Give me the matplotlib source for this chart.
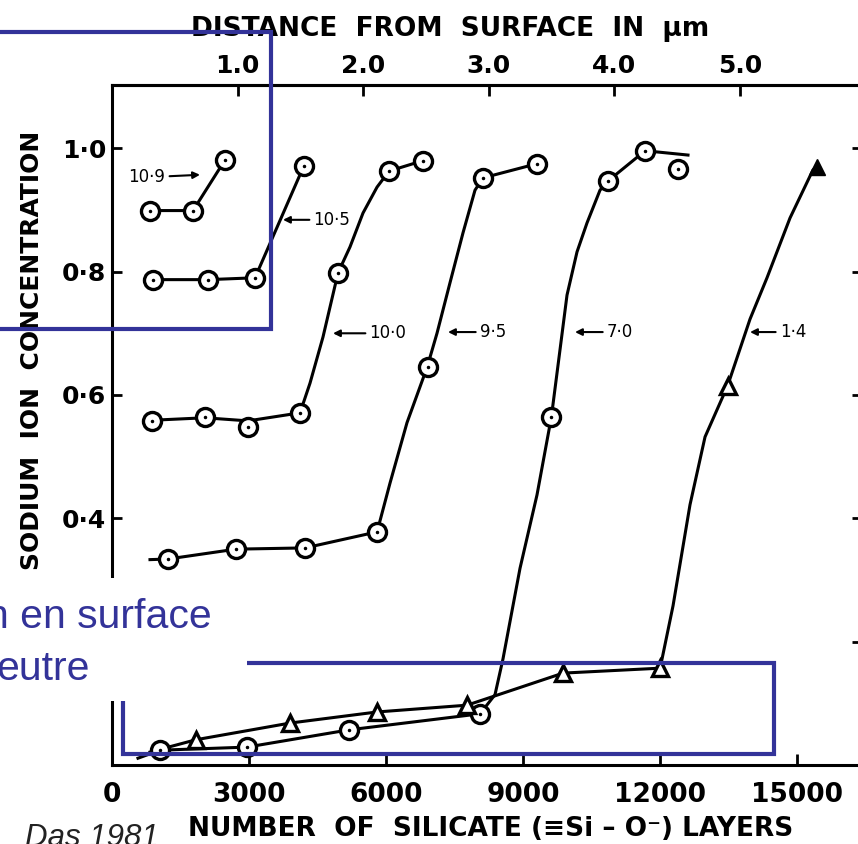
import matplotlib
matplotlib.use("Agg")
import matplotlib.pyplot as plt
from matplotlib.patches import Rectangle

# --- données (Das 1981) ---
# nombre de couches silicate (x) et concentration en ions sodium (y)
x109 = [832, 1774, 2474]
y109 = [0.899, 0.899, 0.981]

x105 = [898, 2102, 3131, 4204]
y105 = [0.787, 0.787, 0.790, 0.972]

x100 = [876, 2036, 2978, 4117, 4949, 6066, 6811]
y100 = [0.558, 0.564, 0.548, 0.571, 0.798, 0.963, 0.980]
x100_line = [876, 2036, 2978, 4117, 4335, 4620, 4949, 5211, 5496, 5803, 6066, 6811]
y100_line = [0.559, 0.563, 0.558, 0.571, 0.619, 0.694, 0.798, 0.840, 0.895, 0.937, 0.963, 0.980]

x95 = [1226, 2716, 4227, 5804, 6920, 8123, 9308]
y95 = [0.334, 0.350, 0.352, 0.378, 0.645, 0.952, 0.975]
x95_line = [832, 1226, 2716, 4227, 5804, 6087, 6459, 6900, 7116, 7401, 7686, 7948, 8123, 9308]
y95_line = [0.333, 0.334, 0.350, 0.352, 0.378, 0.457, 0.555, 0.645, 0.700, 0.782, 0.863, 0.932, 0.952, 0.975]

x70 = [1051, 2956, 5190, 8059, 9620, 10861, 11673, 12396]
y70 = [0.024, 0.029, 0.057, 0.083, 0.564, 0.947, 0.996, 0.967]
x70_line = [569, 1051, 2956, 5190, 8059, 8386, 8561, 8934, 9306, 9620, 9809, 9963, 10182, 10401, 10685,
            10861, 11673, 12612]
y70_line = [0.011, 0.024, 0.029, 0.057, 0.083, 0.114, 0.172, 0.319, 0.438, 0.564, 0.673, 0.762, 0.832, 0.879,
            0.932, 0.947, 0.996, 0.989]

x14 = [1840, 3898, 5804, 7775, 9877, 12002, 13480, 15437]
y14 = [0.041, 0.068, 0.086, 0.097, 0.149, 0.157, 0.615, 0.970]
x14_line = [832, 1840, 3898, 5804, 7775, 9877, 12002, 12284, 12656, 12985, 13480, 13970, 14342, 14846, 15349,
            15437]
y14_line = [0.021, 0.041, 0.068, 0.086, 0.097, 0.149, 0.157, 0.258, 0.422, 0.532, 0.615, 0.723, 0.790, 0.887,
            0.965, 0.970]

# étiquettes des courbes (pH) : texte, pointe de la flèche, position du texte
labels = ["10·9", "10·5", "10·0", "9·5", "7·0", "1·4"]
tips = [(1927, 0.957), (3744, 0.884), (4839, 0.700), (7357, 0.702), (10138, 0.702), (13970, 0.702)]
txt_pos = [(766, 0.953), (4817, 0.884), (6043, 0.700), (8342, 0.702), (11123, 0.702), (14911, 0.702)]

xticks = [0, 3000, 6000, 9000, 12000, 15000]
yticks = [0.2, 0.4, 0.6, 0.8, 1.0]
ytick_labels = ["", "0·4", "0·6", "0·8", "1·0"]  # 0·2 caché par l'encadré de la diapo
um_ticks = [1, 2, 3, 4, 5]
um_labels = ["1.0", "2.0", "3.0", "4.0", "5.0"]
layers_per_um = 2750

blue = "#333399"

fig = plt.figure(figsize=(8.58, 8.44), dpi=100)
ax = fig.add_axes([112 / 858, 79 / 844, 750 / 858, 680 / 844])

lw = 2.2
circ = dict(marker="o", ms=13, mfc="white", mec="black", mew=2.4, ls="none", zorder=4)
dot = dict(marker=".", ms=3, color="black", ls="none", zorder=5)
tri = dict(marker="^", ms=12, mfc="white", mec="black", mew=2.4, ls="none", zorder=4)

ax.plot(x109, y109, color="k", lw=lw)
ax.plot(x105, y105, color="k", lw=lw)
ax.plot(x100_line, y100_line, color="k", lw=lw)
ax.plot(x95_line, y95_line, color="k", lw=lw)
ax.plot(x70_line, y70_line, color="k", lw=lw)
ax.plot(x14_line, y14_line, color="k", lw=lw)

for xs, ys in [(x109, y109), (x105, y105), (x100, y100), (x95, y95), (x70, y70)]:
    ax.plot(xs, ys, **circ)
    ax.plot(xs, ys, **dot)
ax.plot(x14[:-1], y14[:-1], **tri)
ax.plot(x14[-1:], y14[-1:], marker="^", ms=12, color="black", ls="none", zorder=4)

for lab, tip, pos in zip(labels, tips, txt_pos):
    ax.annotate(lab, xy=tip, xytext=pos, ha="center", va="center", fontsize=12,
                arrowprops=dict(arrowstyle="-|>", color="k", lw=1.5, mutation_scale=10,
                                shrinkA=1, shrinkB=0))

ax.set_xlim(0, 16422)
ax.set_ylim(0, 1.1026)
ax.set_xticks(xticks)
ax.set_xticklabels([str(v) for v in xticks], fontsize=19, fontweight="bold")
ax.set_yticks(yticks)
ax.set_yticklabels(ytick_labels, fontsize=18, fontweight="bold")
ax.tick_params(axis="x", direction="in", length=8, width=2, pad=12, top=False)
ax.tick_params(axis="y", direction="in", length=7, width=2, pad=4, right=True)
for s in ax.spines.values():
    s.set_linewidth(2.2)

sec = ax.secondary_xaxis("top", functions=(lambda v: v / layers_per_um, lambda d: d * layers_per_um))
sec.set_xticks(um_ticks)
sec.set_xticklabels(um_labels, fontsize=18, fontweight="bold")
sec.tick_params(direction="in", length=8, width=2, pad=5)
sec.spines["top"].set_linewidth(2.2)

fig.text(450 / 858, 1 - 29 / 844, "DISTANCE  FROM  SURFACE  IN  µm", ha="center", va="center",
         fontsize=19, fontweight="bold")
fig.text(491 / 858, 1 - 829 / 844, "NUMBER  OF  SILICATE (≡Si – O⁻) LAYERS", ha="center", va="center",
         fontsize=19, fontweight="bold")
fig.text(32 / 858, 1 - 350 / 844, "SODIUM  ION  CONCENTRATION", ha="center", va="center",
         rotation=90, fontsize=18, fontweight="bold")

# éléments de la diapositive superposés
fig.add_artist(Rectangle((-0.01, 1 - 329 / 844), 0.01 + 271 / 858, 297 / 844, transform=fig.transFigure,
                         fill=False, ec=blue, lw=3, zorder=10))
fig.add_artist(Rectangle((123 / 858, 1 - 754 / 844), 651 / 858, 91 / 844, transform=fig.transFigure,
                         fill=False, ec=blue, lw=3, zorder=10))
fig.add_artist(Rectangle((0, 1 - 701 / 844), 247 / 858, 123 / 844, transform=fig.transFigure,
                         fc="white", ec="none", zorder=11))
fig.text(212 / 858, 1 - 628 / 844, "n en surface", ha="right", va="baseline", fontsize=29.5,
         family="Liberation Sans", color=blue, zorder=12)
fig.text(90 / 858, 1 - 680 / 844, "eutre", ha="right", va="baseline", fontsize=29.5,
         family="Liberation Sans", color=blue, zorder=12)
fig.text(25 / 858, 1 - 846 / 844, "Das 1981", ha="left", va="baseline", fontsize=22.5,
         family="Liberation Sans", style="italic", color="#222222", zorder=12)

fig.savefig("out.png", dpi=100)
